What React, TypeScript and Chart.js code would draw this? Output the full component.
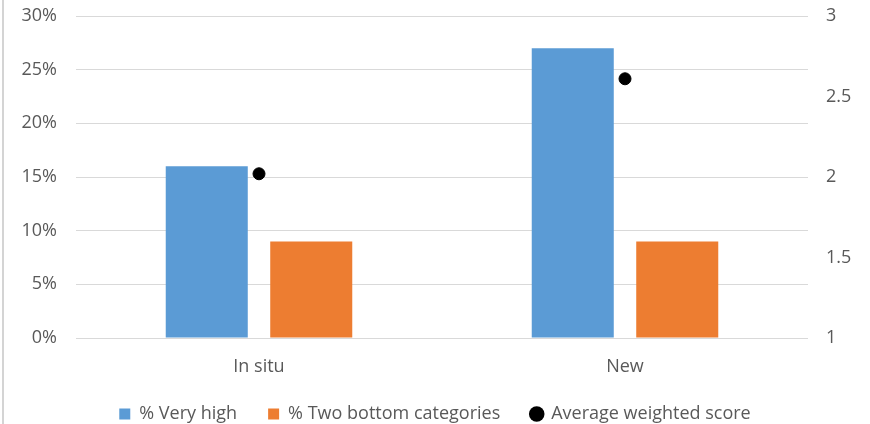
import React, { useEffect, useRef } from "react";
import { Chart, registerables } from "chart.js";

Chart.register(...registerables);

const categories = ["In situ", "New"];
const veryHigh = [16, 27];
const twoBottom = [9, 9];
const avgScore = [2.02, 2.61];

const seriesNames = ["% Very high", "% Two bottom categories", "Average weighted score"];
const seriesColors = ["#5B9BD5", "#ED7D31", "#000000"];

const TEXT = "#595959";
const GRID = "#D9D9D9";
const FONT = { family: "'Open Sans', sans-serif", size: 18 };

// Fixed-width vertical axes that don't reserve extra room above/below the plot
const fixVertical = (width: number) => (s: any) => {
  s.width = width;
  s.paddingTop = 0;
  s.paddingBottom = 0;
};

export default function App() {
  const canvasRef = useRef<HTMLCanvasElement | null>(null);

  useEffect(() => {
    const canvas = canvasRef.current;
    if (!canvas) return;
    const chart = new Chart(canvas, {
      type: "bar",
      data: {
        labels: categories,
        datasets: [
          {
            type: "bar",
            label: seriesNames[0],
            data: veryHigh,
            backgroundColor: seriesColors[0],
            yAxisID: "y",
            categoryPercentage: 0.571,
            barPercentage: 0.785,
          },
          {
            type: "bar",
            label: seriesNames[1],
            data: twoBottom,
            backgroundColor: seriesColors[1],
            yAxisID: "y",
            categoryPercentage: 0.571,
            barPercentage: 0.785,
          },
          {
            type: "line",
            label: seriesNames[2],
            data: avgScore,
            showLine: false,
            borderColor: seriesColors[2],
            backgroundColor: seriesColors[2],
            pointRadius: 6,
            pointHoverRadius: 6,
            yAxisID: "y1",
          },
        ],
      },
      options: {
        responsive: true,
        maintainAspectRatio: false,
        animation: false,
        layout: { padding: { top: 16, left: 0, right: 0, bottom: 0 } },
        plugins: {
          tooltip: { enabled: false },
          legend: {
            position: "bottom",
            labels: {
              color: TEXT,
              font: FONT,
              usePointStyle: true,
              boxHeight: 11,
              boxWidth: 11,
              padding: 31,
              generateLabels: (c: any) => {
                const items = Chart.defaults.plugins.legend.labels.generateLabels(c);
                return items.map((it: any, i: number) => ({
                  ...it,
                  pointStyle: i === 2 ? "circle" : "rect",
                  lineWidth: 0,
                  strokeStyle: "rgba(0,0,0,0)",
                }));
              },
            },
          },
        },
        scales: {
          x: {
            grid: { display: false, drawTicks: false },
            border: { display: false },
            ticks: { color: TEXT, font: { ...FONT, lineHeight: 1 }, padding: 20 },
            afterFit: (s: any) => {
              s.height = 36;
            },
          },
          y: {
            position: "left",
            min: 0,
            max: 30,
            ticks: {
              stepSize: 5,
              color: TEXT,
              font: FONT,
              padding: 19,
              callback: (v: any) => `${v}%`,
            },
            grid: { color: GRID, lineWidth: 1, drawTicks: false },
            border: { display: false },
            afterFit: fixVertical(76),
          },
          y1: {
            position: "right",
            min: 1,
            max: 3,
            ticks: {
              stepSize: 0.5,
              color: TEXT,
              font: FONT,
              padding: 18,
              callback: (v: any) => String(Number(v)),
            },
            grid: { display: false, drawTicks: false },
            border: { display: false },
            afterFit: fixVertical(62),
          },
        },
      },
    });
    return () => chart.destroy();
  }, []);

  return (
    <div
      style={{
        position: "fixed",
        left: 0,
        top: 0,
        width: 870,
        height: 424,
        overflow: "hidden",
        background: "#fff",
      }}
    >
      <div
        style={{
          position: "absolute",
          left: 2,
          top: 0,
          width: 2,
          height: 424,
          background: "#D4D4D4",
        }}
      />
      <div style={{ position: "absolute", left: 0, top: 0, width: 870, height: 433 }}>
        <canvas ref={canvasRef} />
      </div>
    </div>
  );
}
